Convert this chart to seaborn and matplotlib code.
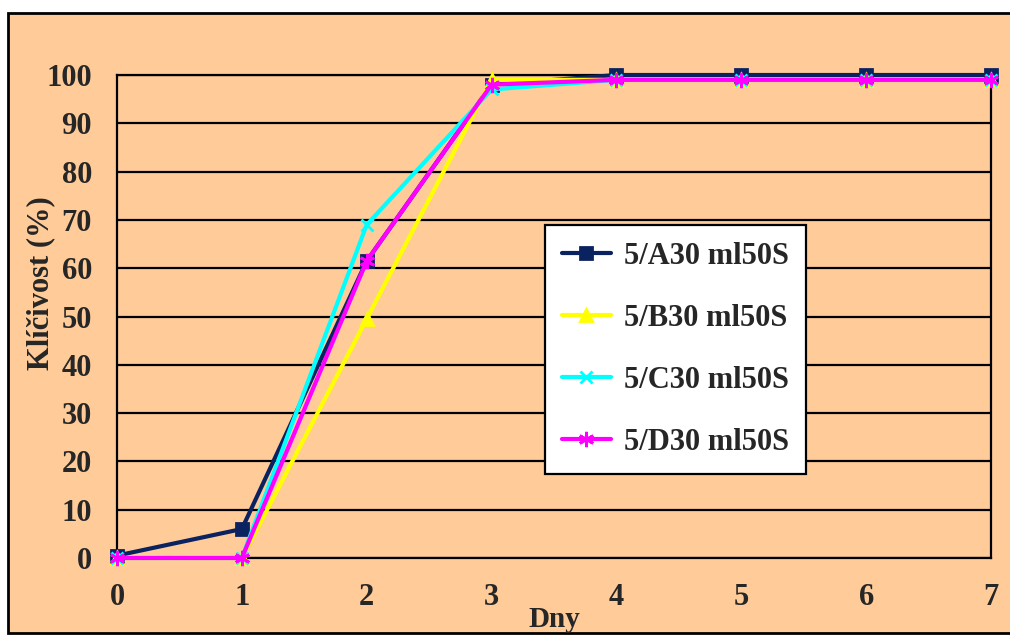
import matplotlib
matplotlib.use("Agg")
import matplotlib.pyplot as plt
from matplotlib.patches import Rectangle
import seaborn as sns
import pandas as pd

# Germination over days for four samples
days = [0, 1, 2, 3, 4, 5, 6, 7]
series_names = ["5/A30 ml50S", "5/B30 ml50S", "5/C30 ml50S", "5/D30 ml50S"]
vals_a = [0.5, 6, 61.5, 98, 100, 100, 100, 100]
vals_b = [0, 0, 49.5, 99, 99, 99, 99, 99]
vals_c = [0, 0, 69, 97, 99, 99, 99, 99]
vals_d = [0, 0, 61.5, 98, 99, 99, 99, 99]
y_ticks = [0, 10, 20, 30, 40, 50, 60, 70, 80, 90, 100]

colors = ["#0B2260", "#FFFF00", "#00FFFF", "#FF00FF"]
markers = ["s", "^", "x", (6, 2, 0)]
msizes = [8, 8, 9, 11]

df = pd.DataFrame({
    "Dny": days * 4,
    "val": vals_a + vals_b + vals_c + vals_d,
    "serie": sum([[n] * len(days) for n in series_names], []),
})

sns.set_style("white")
plt.rcParams["font.family"] = ["Liberation Serif", "DejaVu Serif"]
plt.rcParams["font.weight"] = "bold"

fig = plt.figure(figsize=(10.1, 6.35), dpi=100, facecolor="white")
# peach chart area with black frame
fig.patches.append(Rectangle((8 / 1010, 2 / 635), 1.0, (620) / 635,
                             transform=fig.transFigure, facecolor="#FFCC99",
                             edgecolor="black", linewidth=2, zorder=-10))

ax = fig.add_axes([117 / 1010, 1 - 558 / 635, (991 - 117) / 1010, (558 - 75) / 635])
ax.set_facecolor("#FFCC99")

for name, col, mk, ms in zip(series_names, colors, markers, msizes):
    sub = df[df["serie"] == name]
    sns.lineplot(data=sub, x="Dny", y="val", ax=ax, color=col, marker=mk,
                 markersize=ms, markeredgecolor=col, markeredgewidth=2,
                 linewidth=3, label=name, clip_on=False, zorder=3)

ax.set_xlim(0, 7)
ax.set_ylim(0, 100)
ax.set_xticks(days)
ax.set_yticks(y_ticks)
ax.yaxis.grid(True, color="black", linewidth=1.6)
ax.xaxis.grid(False)
for sp in ax.spines.values():
    sp.set_color("black")
    sp.set_linewidth(1.6)
ax.tick_params(axis="both", which="major", direction="out", length=7,
               width=1.6, color="black", labelsize=22)
ax.tick_params(axis="x", pad=11)
ax.tick_params(axis="y", pad=11)
for lbl in ax.get_xticklabels() + ax.get_yticklabels():
    lbl.set_fontweight("bold")

ax.set_xlabel("Dny", fontsize=21, fontweight="bold")
ax.xaxis.set_label_coords(0.5, -0.1)
ax.set_ylabel("Klíčivost (%)", fontsize=22, fontweight="bold")
ax.yaxis.set_label_coords(-0.071, 0.57)

leg = ax.legend(loc="upper left", bbox_to_anchor=(545 / 1010, 1 - 225 / 635),
                bbox_transform=fig.transFigure, fontsize=22, frameon=True,
                fancybox=False, framealpha=1, edgecolor="black",
                handlelength=1.6, labelspacing=1.08, borderpad=0.55,
                handletextpad=0.45, borderaxespad=0)
leg.get_frame().set_linewidth(1.6)
leg.get_frame().set_facecolor("white")
for t in leg.get_texts():
    t.set_fontweight("bold")

fig.savefig("out.png", dpi=100, facecolor="white")
